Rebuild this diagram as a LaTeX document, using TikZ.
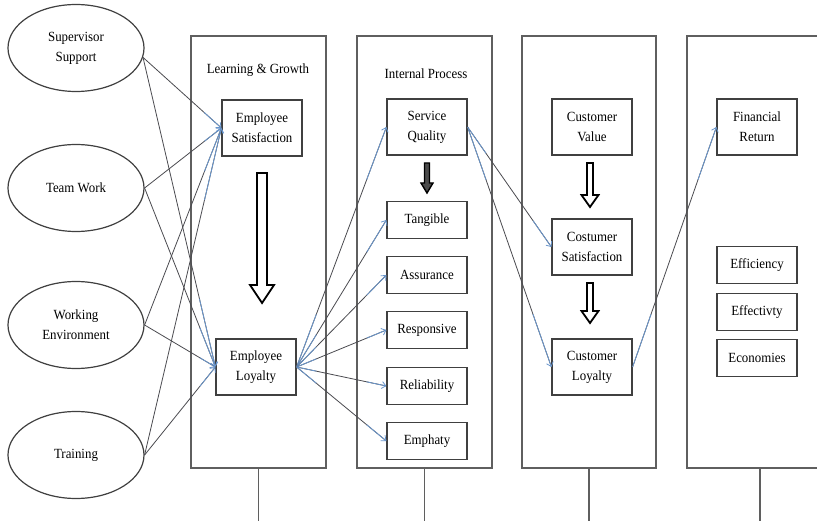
\documentclass[tikz,border=0pt]{standalone}
\usepackage{fontspec}
\setmainfont{Liberation Serif}[FakeStretch=0.92]
\usetikzlibrary{shapes.geometric,arrows.meta,calc}
\definecolor{linkgray}{RGB}{75,75,80}
\definecolor{linkblue}{RGB}{105,150,205}
\definecolor{framegray}{RGB}{95,95,95}
\newcommand\lnk[2]{\draw[link] (#1) -- (#2); \draw[linkend] ($(#1)!0.78!(#2)$) -- (#2);}
\newcommand\lnkb[2]{\draw[link] (#1) -- (#2); \draw[linkstart] (#1) -- ($(#1)!0.22!(#2)$); \draw[linkend] ($(#1)!0.78!(#2)$) -- (#2);}
\newcommand\blockarr[7]{% x, ytop, ybot, shaft, head, headlen, style
  \draw[#7] ({#1-#4/2},#2) -- ({#1+#4/2},#2) -- ({#1+#4/2},{#3-#6}) -- ({#1+#5/2},{#3-#6}) -- (#1,#3) -- ({#1-#5/2},{#3-#6}) -- ({#1-#4/2},{#3-#6}) -- cycle;}
\begin{document}
\begin{tikzpicture}[x=1pt,y=-1pt,
  every node/.style={font=\fontsize{14}{20}\selectfont},
  oval/.style={ellipse,draw=black!75,line width=1.2pt,minimum width=136pt,minimum height=87pt,align=center,inner sep=0pt},
  bigbox/.style={draw=black!75,line width=1.2pt,minimum width=80pt,minimum height=56pt,align=center,inner sep=0pt,fill=white},
  smallbox/.style={bigbox,minimum height=37pt},
  panel/.style={draw=framegray,line width=1.2pt,fill=white,inner sep=0pt},
  stub/.style={draw=framegray,line width=1.2pt},
  link/.style={draw=linkgray,line width=0.8pt},
  linkend/.style={draw=linkblue,line width=0.8pt,-{Straight Barb[length=4pt,width=7pt]}},
  linkstart/.style={draw=linkblue,line width=0.8pt},
  hollow/.style={draw=black,line width=1.8pt,fill=white,line join=miter},
  solidarr/.style={draw=black,line width=1.4pt,fill=black!70,line join=miter}
]
\clip (0,0) rectangle (817,521);
\fill[white] (0,0) rectangle (817,521);

% panels
\node[panel,minimum width=135pt,minimum height=432pt] (p1) at (258.5,252) {};
\node[panel,minimum width=135pt,minimum height=432pt] (p2) at (424.5,252) {};
\node[panel,minimum width=134pt,minimum height=432pt] (p3) at (589,252) {};
\node[panel,minimum width=146pt,minimum height=432pt] (p4) at (760,252) {};
\coordinate (s1) at (258.5,530);
\coordinate (s2) at (424.5,530);
\coordinate (s3) at (589,530);
\coordinate (s4) at (760,530);
\draw[stub] (p1.south) -- (s1);
\draw[stub] (p2.south) -- (s2);
\draw[stub] (p3.south) -- (s3);
\draw[stub] (p4.south) -- (s4);

\node (t1) at (258,70) {Learning \& Growth};
\node (t2) at (426,74) {Internal Process};

% ellipses
\node[oval] (ss) at (76,48) {Supervisor\\Support};
\node[oval] (tw) at (76,188) {Team Work};
\node[oval] (we) at (76,325) {Working\\Environment};
\node[oval] (tr) at (76,455) {Training};

% boxes
\node[bigbox] (es) at (262,128) {Employee\\Satisfaction};
\node[bigbox] (el) at (256,367) {Employee\\Loyalty};
\node[bigbox] (sq) at (427,127) {Service\\Quality};
\node[smallbox] (tan) at (427,220) {Tangible};
\node[smallbox] (asu) at (427,275) {Assurance};
\node[smallbox] (res) at (427,330) {Responsive};
\node[smallbox] (rel) at (427,386) {Reliability};
\node[smallbox] (emp) at (427,441) {Emphaty};
\node[bigbox] (cv) at (592,127) {Customer\\Value};
\node[bigbox] (cs) at (592,247) {Costumer\\Satisfaction};
\node[bigbox] (cl) at (592,367) {Customer\\Loyalty};
\node[bigbox] (fr) at (757,127) {Financial\\Return};
\node[smallbox] (eff) at (757,265) {Efficiency};
\node[smallbox] (efv) at (757,312) {Effectivty};
\node[smallbox] (eco) at (757,358) {Economies};

% block arrows
\blockarr{262}{173}{303}{10}{24}{18}{hollow}
\blockarr{427}{163}{193}{5}{12}{10}{solidarr}
\blockarr{590}{163}{207}{6}{17}{12}{hollow}
\blockarr{590}{283}{323}{6}{17}{12}{hollow}

% links from ellipses
\lnk{ss.-8}{es.west}
\lnk{ss.-8}{el.west}
\lnk{tw.east}{es.west}
\lnk{tw.east}{el.west}
\lnk{we.east}{es.west}
\lnk{we.east}{el.west}
\lnk{tr.east}{es.west}
\lnk{tr.east}{el.west}

% links from employee loyalty
\lnkb{el.east}{sq.west}
\lnkb{el.east}{tan.west}
\lnkb{el.east}{asu.west}
\lnkb{el.east}{res.west}
\lnkb{el.east}{rel.west}
\lnkb{el.east}{emp.west}

% service quality to customer
\lnkb{sq.east}{cs.west}
\lnkb{sq.east}{cl.west}

% customer loyalty to financial return
\lnkb{cl.east}{fr.west}
\end{tikzpicture}
\end{document}
